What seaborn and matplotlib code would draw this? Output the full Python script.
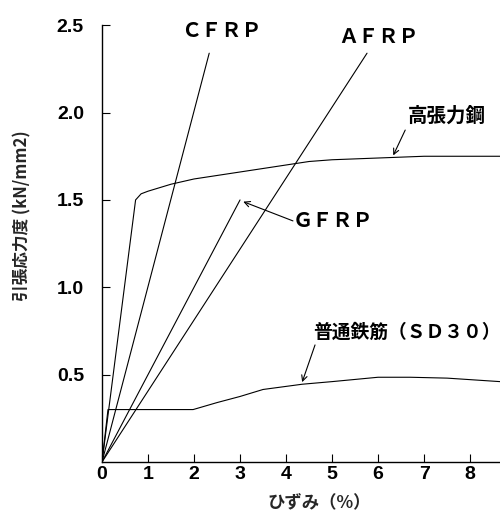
import matplotlib
matplotlib.use("Agg")
import matplotlib.pyplot as plt
import seaborn as sns
import pandas as pd

# ---- data ----
cfrp_x = [0.0, 2.33]
cfrp_y = [0.0, 2.34]
afrp_x = [0.0, 5.76]
afrp_y = [0.0, 2.34]
gfrp_x = [0.0, 3.0]
gfrp_y = [0.0, 1.50]
hts_x = [0.0, 0.73, 0.85, 1.0, 1.5, 2.0, 3.0, 4.0, 4.5, 5.0, 6.0, 7.0, 8.65]
hts_y = [0.0, 1.50, 1.535, 1.55, 1.59, 1.62, 1.66, 1.70, 1.72, 1.73, 1.74, 1.75, 1.75]
sd30_x = [0.0, 0.13, 1.98, 2.5, 3.0, 3.5, 4.35, 5.0, 6.0, 6.7, 7.5, 8.65]
sd30_y = [0.0, 0.30, 0.30, 0.34, 0.375, 0.415, 0.445, 0.46, 0.485, 0.485, 0.48, 0.46]

x_ticks = [0, 1, 2, 3, 4, 5, 6, 7, 8]
y_ticks = [0.5, 1.0, 1.5, 2.0, 2.5]
y_tick_labels = ["0.5", "1.0", "1.5", "2.0", "2.5"]

series_names = ["CFRP", "AFRP", "GFRP", "HTS", "SD30"]
series_x = [cfrp_x, afrp_x, gfrp_x, hts_x, sd30_x]
series_y = [cfrp_y, afrp_y, gfrp_y, hts_y, sd30_y]

rows = []
for name, xs, ys in zip(series_names, series_x, series_y):
    for i, (xv, yv) in enumerate(zip(xs, ys)):
        rows.append({"series": name, "order": i, "x": xv, "y": yv})
df = pd.DataFrame(rows)

sns.set_style("ticks")
plt.rcParams["font.family"] = ["Noto Sans CJK JP", "DejaVu Sans"]

fig = plt.figure(figsize=(5.0, 5.12), dpi=100)
ax = fig.add_axes([0.204, 0.0977, 0.796, 0.853])

for name in series_names:
    sub = df[df["series"] == name]
    sns.lineplot(data=sub, x="x", y="y", sort=False, estimator=None,
                 color="black", linewidth=0.8, ax=ax, legend=False)

ax.set_xlim(0, 8.65)
ax.set_ylim(0, 2.5)
sns.despine(ax=ax)
for s in ["left", "bottom"]:
    ax.spines[s].set_linewidth(1.0)
    ax.spines[s].set_color("black")

ax.set_xticks(x_ticks)
ax.set_xticklabels([str(t) for t in x_ticks], fontfamily="Liberation Sans",
                   fontweight="bold", fontsize=14)
ax.set_yticks(y_ticks)
ax.set_yticklabels(y_tick_labels, fontfamily="Liberation Sans",
                   fontweight="bold", fontsize=14)
ax.tick_params(axis="x", direction="in", length=6, width=0.8, pad=3, colors="black")
ax.tick_params(axis="y", direction="in", length=6, width=0.8, pad=13, colors="black")

ax.set_xlabel("ひずみ（%）", fontsize=12.5, fontweight="bold")
ax.set_ylabel("引張応力度 (kN/mm2)", fontsize=12, fontweight="bold")
ax.xaxis.set_label_coords(0.545, -0.072)
ax.yaxis.set_label_coords(-0.176, 0.565)

tkw = dict(fontweight="bold", ha="center", va="center", color="black")
ax.text(2.6, 2.47, "ＣＦＲＰ", fontsize=14.5, **tkw)
ax.text(6.0, 2.44, "ＡＦＲＰ", fontsize=14.5, **tkw)
ax.text(7.5, 1.98, "高張力鋼", fontsize=14, **tkw)
ax.text(5.02, 1.38, "ＧＦＲＰ", fontsize=14.5, **tkw)
ax.text(6.62, 0.74, "普通鉄筋（ＳＤ３０）", fontsize=13.5, **tkw)

akw = dict(arrowstyle="->", color="black", lw=0.8, shrinkA=0, shrinkB=0)
ax.annotate("", xy=(6.33, 1.755), xytext=(6.59, 1.90), arrowprops=akw)
ax.annotate("", xy=(3.07, 1.49), xytext=(4.15, 1.38), arrowprops=akw)
ax.annotate("", xy=(4.35, 0.457), xytext=(4.63, 0.67), arrowprops=akw)

fig.savefig("out.png", dpi=100, facecolor="white")
